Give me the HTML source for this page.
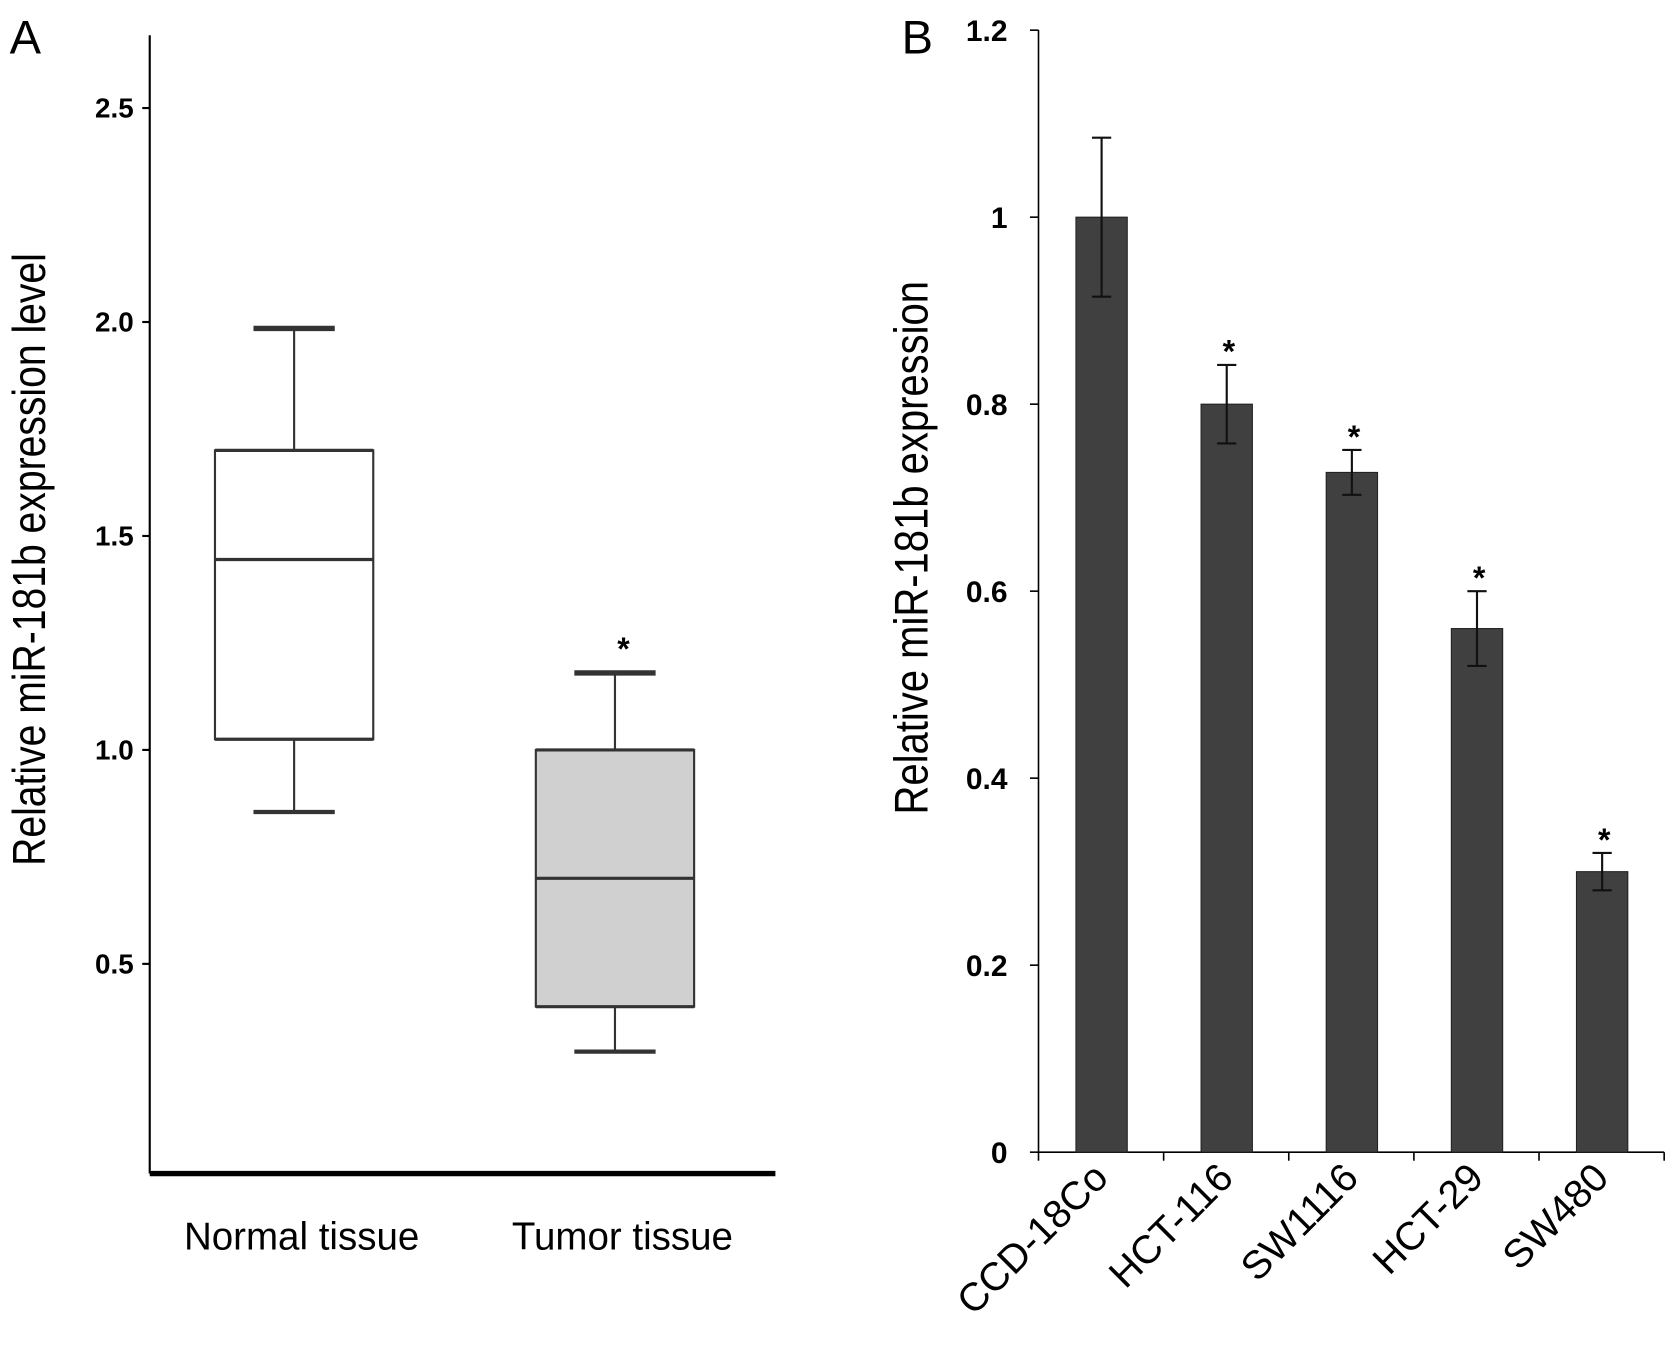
<!DOCTYPE html>
<html><head><meta charset="utf-8"><style>
html,body{margin:0;padding:0;background:#fff;}
svg{display:block;font-family:"Liberation Sans",Arial,sans-serif;}
</style></head><body>
<svg id="fig" width="1677" height="1349" viewBox="0 0 1568 1261" preserveAspectRatio="none">
<g id="pa"></g>
<g id="pb"></g>
</svg>
<script>
const boxCategories=["Normal tissue","Tumor tissue"];
const boxMin=[0.855,0.295];
const boxQ1=[1.025,0.40];
const boxMedian=[1.445,0.70];
const boxQ3=[1.70,1.0];
const boxMax=[1.985,1.18];
const boxFill=["#ffffff","#d0d0d0"];
const boxTicks=[0.5,1.0,1.5,2.0,2.5];
const boxTickLabels=["0.5","1.0","1.5","2.0","2.5"];

const barCategories=["CCD-18Co","HCT-116","SW1116","HCT-29","SW480"];
const barValues=[1.0,0.80,0.727,0.56,0.30];
const barErrors=[0.085,0.042,0.024,0.04,0.02];
const barStars=[false,true,true,true,true];
const barTicks=[0,0.2,0.4,0.6,0.8,1,1.2];
const barTickLabels=["0","0.2","0.4","0.6","0.8","1","1.2"];

const NS="http://www.w3.org/2000/svg";
function mk(parent,tag,attrs,text){const e=document.createElementNS(NS,tag);for(const k in attrs)e.setAttribute(k,attrs[k]);if(text!==undefined)e.textContent=text;parent.appendChild(e);return e;}

// Panel A
const pa=document.getElementById('pa');
const yA=v=>1101-v*400;
const xA=i=>275+i*300;
let t=mk(pa,'text',{x:9,y:50,'font-size':44},'A');


let l=mk(pa,'line',{x1:140,y1:33,x2:140,y2:1097,stroke:'#000','stroke-width':2});


l=mk(pa,'line',{x1:140,y1:1097,x2:725,y2:1097,stroke:'#000','stroke-width':5});


boxTicks.forEach((v,i)=>{
  const tk=mk(pa,'line',{x1:133,y1:yA(v),x2:140,y2:yA(v),stroke:'#000','stroke-width':2});
  
  
  const lb=mk(pa,'text',{x:125,y:yA(v)+9,'font-size':26,'font-weight':'bold','text-anchor':'end'},boxTickLabels[i]);
  
  
});
t=mk(pa,'text',{transform:'translate(42,523) rotate(-90) scale(0.85,1)','font-size':43,'text-anchor':'middle'},'Relative miR-181b expression level');


boxCategories.forEach((c,i)=>{
  const cx=xA(i), g=mk(pa,'g',{});
  
  
  mk(g,'line',{x1:cx,y1:yA(boxMax[i]),x2:cx,y2:yA(boxQ3[i]),stroke:'#333','stroke-width':2});
  mk(g,'line',{x1:cx,y1:yA(boxQ1[i]),x2:cx,y2:yA(boxMin[i]),stroke:'#333','stroke-width':2});
  mk(g,'line',{x1:cx-38,y1:yA(boxMax[i]),x2:cx+38,y2:yA(boxMax[i]),stroke:'#333','stroke-width':5});
  mk(g,'line',{x1:cx-38,y1:yA(boxMin[i]),x2:cx+38,y2:yA(boxMin[i]),stroke:'#333','stroke-width':4});
  mk(g,'rect',{x:cx-74,y:yA(boxQ3[i]),width:148,height:yA(boxQ1[i])-yA(boxQ3[i]),fill:boxFill[i],stroke:'#333','stroke-width':2});
  mk(g,'line',{x1:cx-74,y1:yA(boxQ3[i]),x2:cx+74,y2:yA(boxQ3[i]),stroke:'#333','stroke-width':3});
  mk(g,'line',{x1:cx-74,y1:yA(boxQ1[i]),x2:cx+74,y2:yA(boxQ1[i]),stroke:'#333','stroke-width':3});
  mk(g,'line',{x1:cx-74,y1:yA(boxMedian[i]),x2:cx+74,y2:yA(boxMedian[i]),stroke:'#333','stroke-width':3});
  const lb=mk(pa,'text',{x:cx+7,y:1168,'font-size':36,'text-anchor':'middle'},c);
  
  
});
t=mk(pa,'text',{x:xA(1)+8,y:yA(boxMax[1])-12,'font-size':30,'font-weight':'bold','text-anchor':'middle'},'*');



// Panel B
const pb=document.getElementById('pb');
const yB=v=>1077-v*874;
const xB=i=>1030+i*117;
t=mk(pb,'text',{x:843,y:50,'font-size':44},'B');


l=mk(pb,'line',{x1:971,y1:28,x2:971,y2:1077,stroke:'#000','stroke-width':1.5});


l=mk(pb,'line',{x1:971,y1:1077,x2:1556,y2:1077,stroke:'#000','stroke-width':1.5});


barTicks.forEach((v,i)=>{
  const tk=mk(pb,'line',{x1:963,y1:yB(v),x2:971,y2:yB(v),stroke:'#000','stroke-width':1.5});
  
  
  const lb=mk(pb,'text',{x:942,y:yB(v)+10,'font-size':28,'font-weight':'bold','text-anchor':'end'},barTickLabels[i]);
  
  
});
for(let i=0;i<=barCategories.length;i++){
  const tk=mk(pb,'line',{x1:971+i*117,y1:1077,x2:971+i*117,y2:1085,stroke:'#000','stroke-width':1.5});
  
  
}
t=mk(pb,'text',{transform:'translate(867,512) rotate(-90) scale(0.85,1)','font-size':44,'text-anchor':'middle'},'Relative miR-181b expression');


barCategories.forEach((c,i)=>{
  const cx=xB(i);
  const b=mk(pb,'rect',{x:cx-24,y:yB(barValues[i]),width:48,height:yB(0)-yB(barValues[i]),fill:'#404040',stroke:'#222','stroke-width':1});
  
  
  const g=mk(pb,'g',{stroke:'#111','stroke-width':2});
  
  
  const hi=yB(barValues[i]+barErrors[i]), lo=yB(barValues[i]-barErrors[i]);
  mk(g,'line',{x1:cx,y1:hi,x2:cx,y2:lo});
  mk(g,'line',{x1:cx-9,y1:hi,x2:cx+9,y2:hi});
  mk(g,'line',{x1:cx-9,y1:lo,x2:cx+9,y2:lo});
  if(barStars[i]){
    const s=mk(pb,'text',{x:cx+2,y:hi-2,'font-size':30,'font-weight':'bold','text-anchor':'middle'},'*');
    
    
  }
  const lb=mk(pb,'text',{transform:`translate(${cx+8},${1103}) rotate(-45)`,'font-size':37,'text-anchor':'end'},c);
  
  
});
</script>
</body></html>
